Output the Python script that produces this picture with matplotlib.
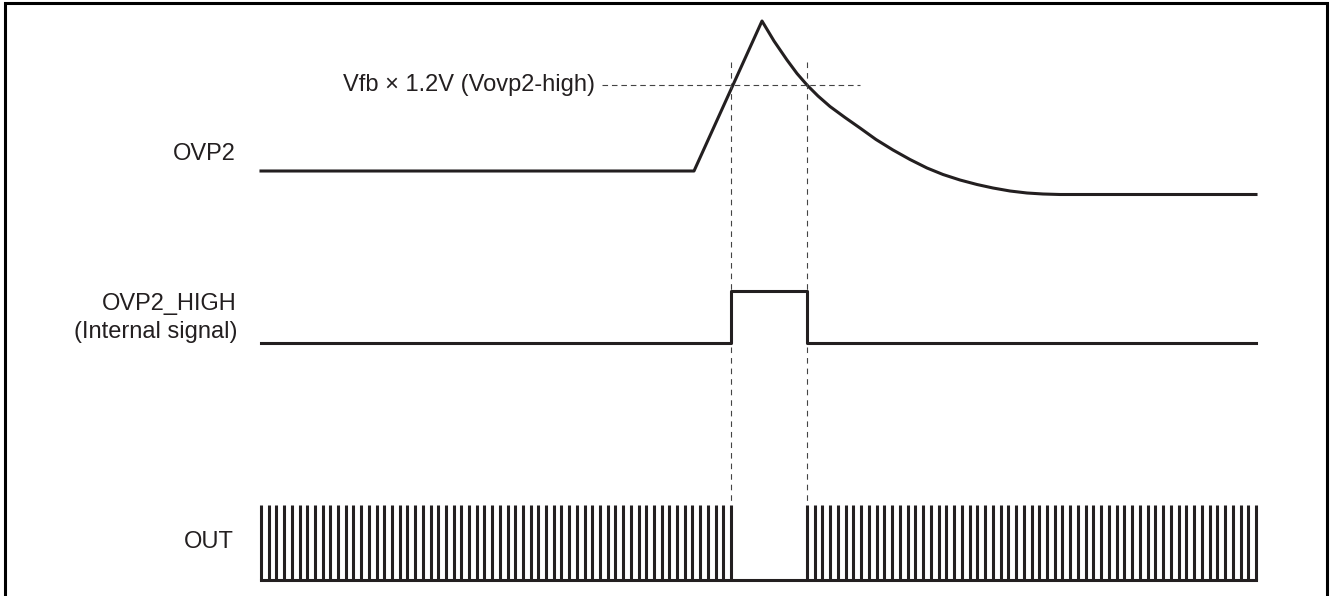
import matplotlib.pyplot as plt
import numpy as np

# time axis: arbitrary units (0 = start of traces, 995 = end)
t_end = 995
t_on = 470      # OVP2 crosses Vovp2-high going up
t_off = 546     # OVP2 falls back below Vovp2-high

# OVP2 analog trace (level above its resting line)
ovp2_t = [0, 433, 501, 513, 526, 536, 546, 557, 569, 584, 599, 615, 632, 649,
          666, 682, 699, 716, 732, 749, 766, 782, 799, 995]
ovp2_v = [0, 0, 150, 130, 111, 97.5, 86, 75, 64.5, 53.5, 43, 31.5, 21, 11.5,
          3, -3.5, -9, -13.5, -17, -20, -22, -23, -23.5, -23.5]
v_thresh = 86
thresh_t = [341, 599]

# OVP2_HIGH internal digital signal
high_t = [0, t_on, t_on, t_off, t_off, t_end]
high_v = [0, 0, 1, 1, 0, 0]

# OUT gate pulses (switching clock, stopped while OVP2_HIGH)
clk_period = 7.72
out_on1 = [0, t_on]
out_on2 = [t_off, t_end]

labels = ["OVP2", "OVP2_HIGH\n(Internal signal)", "OUT"]

# row layout (drawing units, y downward)
ovp2_base = 171
high_base = 343
high_amp = 52
out_base = 580
out_amp = 75

ink = "#231f20"
fs = 17
plt.rcParams['font.family'] = ['Liberation Sans', 'DejaVu Sans']

fig = plt.figure(figsize=(13.3, 5.96), dpi=100)
ax = fig.add_axes([0, 0, 1, 1])
ax.set_xlim(-261, 1069)
ax.set_ylim(596, 0)
ax.axis("off")

# frame (open at bottom)
ax.plot([-256, -256, 1065.7, 1065.7], [600, 3, 3, 600], color="black", lw=2.2,
        solid_joinstyle="miter", clip_on=False)

# OVP2
ax.plot(ovp2_t, [ovp2_base - v for v in ovp2_v], color=ink, lw=2.2,
        solid_joinstyle="round")
ax.plot(thresh_t, [ovp2_base - v_thresh] * 2, color="#444444", lw=0.8,
        dashes=(5, 3.5))
ax.text(thresh_t[0] - 7, ovp2_base - v_thresh, "Vfb \u00d7 1.2V (Vovp2-high)",
        ha="right", va="center", fontsize=fs, color=ink)

# timing markers
for tt in [t_on, t_off]:
    ax.plot([tt, tt], [62, 503], color="#444444", lw=0.8, dashes=(5, 4.5))

# OVP2_HIGH
ax.plot(high_t, [high_base - high_amp * v for v in high_v], color=ink, lw=2.2)

# OUT
ax.plot([0, t_end], [out_base, out_base], color=ink, lw=2.2)
for a, b in [out_on1, out_on2]:
    n = int(round((b - a) / clk_period))
    xs = np.linspace(a, b, n + 1)
    ax.vlines(xs, out_base, out_base - out_amp, color=ink, lw=2.2)

# row labels
ax.text(-25, 154, labels[0], ha="right", va="center", fontsize=fs, color=ink)
ax.text(-24, 318, labels[1], ha="right", va="center", fontsize=fs, color=ink,
        linespacing=1.35)
ax.text(-27, 542, labels[2], ha="right", va="center", fontsize=fs, color=ink)

fig.savefig("out.png", dpi=100)
